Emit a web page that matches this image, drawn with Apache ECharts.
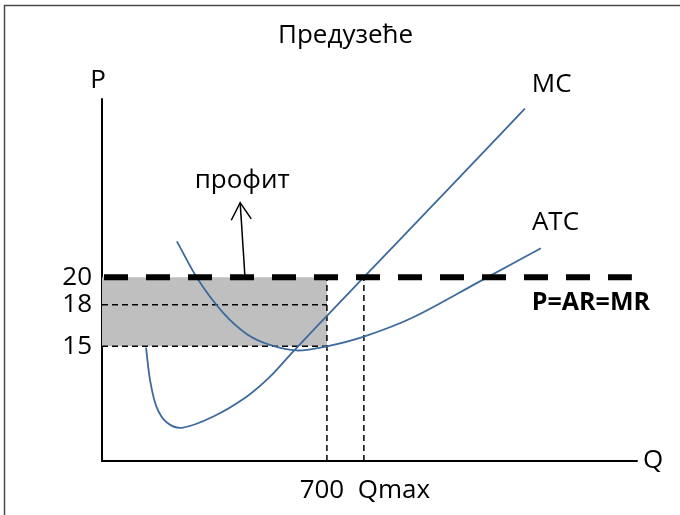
<!DOCTYPE html>
<html>
<head>
<meta charset="utf-8">
<script src="https://cdn.jsdelivr.net/npm/echarts/dist/echarts.min.js"></script>
<style>
html,body{margin:0;padding:0;background:#fff;}
#chart{width:680px;height:515px;}
</style>
</head>
<body>
<div id="chart"></div>
<script>
// ---- data ----
const titleText = 'Предузеће';
const yTickValues = [15, 18, 20];
const yTickLabels = ['15', '18', '20'];
const xTickValues = [700, 815];
const xTickLabels = ['700', 'Qmax'];
const qMC  = [137, 150, 170, 201, 248, 345, 450, 523, 594, 700, 815, 1062, 1316];
const pMC  = [14.9, 12.5, 10.6, 9.5, 9.1, 9.9, 11.35, 12.8, 14.6, 17.2, 20.0, 26.0, 32.2];
const qATC = [233, 300, 378, 450, 523, 606, 700, 815, 969, 1176, 1366];
const pATC = [22.6, 19.8, 17.4, 15.9, 15.1, 14.7, 15.0, 15.7, 17.1, 19.7, 22.1];
const price = 20;
const qProfit = 700;
const qMax = 815;
const avgCostLevel = 15;
const midLevel = 18;
const priceLineQ = [0, 1649];
const arrowQ = [445, 430];
const arrowP = [20, 25.4];
const xMin = 0, xMax = 1665;
const yMin = 6.7, yMax = 32.9;

// ---- chart ----
const chart = echarts.init(document.getElementById('chart'));
const FONT = '"Open Sans", "Noto Sans", sans-serif';
const FS = 26;
const curveColor = '#3d6a9c';
const thinDash = { color: '#000', width: 1.5, type: [6, 4] };

// smooth curve through points (chord-length Catmull-Rom), drawn in pixel space from axis coords
function smoothPath(pts) {
  const n = pts.length;
  const d = [];
  for (let i = 0; i < n - 1; i++) d.push(Math.hypot(pts[i + 1][0] - pts[i][0], pts[i + 1][1] - pts[i][1]));
  const T = pts.map((p, i) => {
    if (i === 0) return [(pts[1][0] - p[0]) / d[0], (pts[1][1] - p[1]) / d[0]];
    if (i === n - 1) return [(p[0] - pts[i - 1][0]) / d[i - 1], (p[1] - pts[i - 1][1]) / d[i - 1]];
    const s = d[i - 1] + d[i];
    return [(pts[i + 1][0] - pts[i - 1][0]) / s, (pts[i + 1][1] - pts[i - 1][1]) / s];
  });
  let path = 'M' + pts[0][0] + ' ' + pts[0][1];
  for (let i = 0; i < n - 1; i++) {
    const k = d[i] / 3;
    const c1 = [pts[i][0] + T[i][0] * k, pts[i][1] + T[i][1] * k];
    const c2 = [pts[i + 1][0] - T[i + 1][0] * k, pts[i + 1][1] - T[i + 1][1] * k];
    path += ' C' + c1[0] + ' ' + c1[1] + ' ' + c2[0] + ' ' + c2[1] + ' ' + pts[i + 1][0] + ' ' + pts[i + 1][1];
  }
  return path;
}

function curveSeries(name, qs, ps, labelText, labelDx, labelDy) {
  return {
    type: 'custom', name: name, z: 3,
    data: [[qs[0], ps[0]]],
    renderItem: (params, api) => {
      const pts = qs.map((q, i) => api.coord([q, ps[i]]));
      const last = pts[pts.length - 1];
      return {
        type: 'group',
        children: [
          { type: 'path', shape: { pathData: smoothPath(pts) },
            style: { stroke: curveColor, lineWidth: 1.8, fill: null } },
          { type: 'text', style: { text: labelText, x: last[0] + labelDx, y: last[1] + labelDy,
            align: 'left', verticalAlign: 'middle', fill: '#000', font: FS + 'px ' + FONT } }
        ]
      };
    }
  };
}

const option = {
  animation: false,
  backgroundColor: '#fff',
  textStyle: { fontFamily: FONT },
  title: {
    text: titleText, left: 273, top: 18,
    textStyle: { fontFamily: FONT, fontSize: FS, fontWeight: 'normal', color: '#000' }
  },
  graphic: [{
    type: 'rect', shape: { x: 4.5, y: 5.5, width: 720, height: 560 },
    style: { fill: 'none', stroke: '#4a4a4a', lineWidth: 1.5 }, silent: true, z: 100
  }],
  grid: { left: 102, right: 43, top: 99, bottom: 54 },
  xAxis: {
    type: 'value', min: xMin, max: xMax,
    name: 'Q', nameLocation: 'end', nameGap: 6,
    nameTextStyle: { fontFamily: FONT, fontSize: FS, color: '#000', verticalAlign: 'middle' },
    axisLine: { show: true, lineStyle: { color: '#000', width: 2 } },
    axisTick: { show: false },
    splitLine: { show: false },
    axisLabel: {
      customValues: xTickValues, margin: 17, color: '#000',
      fontFamily: FONT, fontSize: FS,
      formatter: v => {
        const i = xTickValues.indexOf(v);
        return i === 0 ? '{a|' + xTickLabels[i] + '}' : '{b|' + xTickLabels[i] + '}';
      },
      rich: {
        a: { fontFamily: FONT, fontSize: FS, color: '#000', padding: [0, 10, 0, 0] },
        b: { fontFamily: FONT, fontSize: FS, color: '#000', padding: [0, 0, 0, 60] }
      }
    }
  },
  yAxis: {
    type: 'value', min: yMin, max: yMax,
    name: 'P', nameLocation: 'end', nameGap: 5,
    nameTextStyle: { fontFamily: FONT, fontSize: FS, color: '#000', align: 'right', padding: [0, -4, 0, 0] },
    axisLine: { show: true, lineStyle: { color: '#000', width: 2 } },
    axisTick: { show: false },
    splitLine: { show: false },
    axisLabel: {
      customValues: yTickValues, margin: 10, color: '#000',
      fontFamily: FONT, fontSize: FS,
      formatter: v => yTickLabels[yTickValues.indexOf(v)]
    }
  },
  series: [
    {
      type: 'line', data: [], z: 1,
      markArea: {
        silent: true,
        itemStyle: { color: '#bfbfbf' },
        data: [[{ coord: [xMin, avgCostLevel] }, { coord: [qProfit, price] }]]
      }
    },
    {
      type: 'line', name: '18', data: [[xMin, midLevel], [qProfit, midLevel]],
      symbol: 'none', lineStyle: thinDash, z: 2
    },
    {
      type: 'line', name: '15', data: [[xMin, avgCostLevel], [qProfit, avgCostLevel]],
      symbol: 'none', lineStyle: thinDash, z: 2
    },
    {
      type: 'line', name: 'v700', data: [[qProfit, yMin], [qProfit, price]],
      symbol: 'none', lineStyle: thinDash, z: 2
    },
    {
      type: 'line', name: 'vQmax', data: [[qMax, yMin], [qMax, price]],
      symbol: 'none', lineStyle: thinDash, z: 2
    },
    curveSeries('MC', qMC, pMC, 'MC', 7, -24),
    curveSeries('ATC', qATC, pATC, 'ATC', -9, -26),
    {
      type: 'line', name: 'P', data: [[priceLineQ[0], price], [priceLineQ[1], price]],
      symbol: 'none', lineStyle: { color: '#000', width: 6, type: [24, 18], cap: 'butt', dashOffset: -2 }, z: 4,
      endLabel: {
        show: true, formatter: 'P=AR=MR', offset: [-105, 26], distance: 5,
        color: '#000', fontFamily: FONT, fontSize: 25, fontWeight: 'bold'
      }
    },
    {
      type: 'custom', name: 'arrow', z: 5,
      data: [[arrowQ[0], arrowP[0]]],
      renderItem: (params, api) => {
        const base = api.coord([arrowQ[0], arrowP[0]]);
        const tip = api.coord([arrowQ[1], arrowP[1]]);
        const dx = tip[0] - base[0], dy = tip[1] - base[1];
        const len = Math.hypot(dx, dy);
        const ux = dx / len, uy = dy / len;
        const px = -uy, py = ux;
        const back = 17, half = 10;
        const l = [tip[0] - ux * back + px * half, tip[1] - uy * back + py * half];
        const r = [tip[0] - ux * back - px * half, tip[1] - uy * back - py * half];
        return {
          type: 'group',
          children: [
            { type: 'line', shape: { x1: base[0], y1: base[1], x2: tip[0], y2: tip[1] },
              style: { stroke: '#000', lineWidth: 1.5 } },
            { type: 'polyline', shape: { points: [l, tip, r] },
              style: { stroke: '#000', fill: null, lineWidth: 1.5 } },
            { type: 'text', style: { text: 'профит', x: tip[0] + 2, y: tip[1] - 22,
              align: 'center', verticalAlign: 'middle', fill: '#000',
              font: FS + 'px ' + FONT } }
          ]
        };
      }
    }
  ]
};
chart.setOption(option);
</script>
</body>
</html>
